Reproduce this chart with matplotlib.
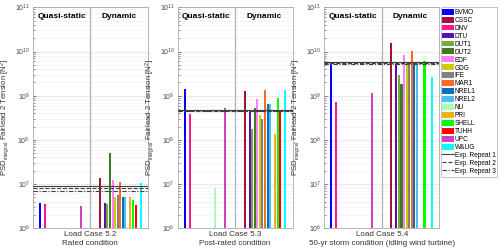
import numpy as np
import matplotlib
matplotlib.use('Agg')
import matplotlib.pyplot as plt
from matplotlib.patches import Patch
from matplotlib.lines import Line2D

plt.rcParams['font.family'] = ['Liberation Sans', 'DejaVu Sans']
plt.rcParams['mathtext.fontset'] = 'custom'
plt.rcParams['mathtext.rm'] = 'Liberation Sans'
plt.rcParams['mathtext.it'] = 'Liberation Sans:italic'

nan = np.nan

participants = ['BVMO', 'CSSC', 'DNV', 'DTU', 'DUT1', 'DUT2', 'EDF', 'GDG', 'IFE',
                'MAR1', 'NREL1', 'NREL2', 'NU', 'PRI', 'SHELL', 'TUHH', 'UPC', 'W&UG']
colors = ['#0000FF', '#A2142F', '#FF1493', '#5A0FB4', '#77AC30', '#3F7A24', '#FF80FF',
          '#CCCC00', '#808080', '#FF6A22', '#0072BD', '#4DBEEE', '#AAFFAA', '#EDB120',
          '#00FF00', '#FF0000', '#CC44BB', '#00FFFF']

groups = ['Quasi-static', 'Dynamic']

# load case 5.2
lc52_quasi = [3.7e6, nan, 3.5e6, nan, nan, nan, nan, nan, nan,
              nan, nan, nan, nan, nan, nan, nan, 3.1e6, nan]
lc52_dyn = [nan, 1.4e7, nan, 3.7e6, 3.4e6, 5.0e7, 1.2e7, 5.1e6, 5.6e6,
            1.1e7, 5.1e6, 5.1e6, nan, 5.0e6, 4.2e6, 3.2e6, nan, 1.04e7]
lc52_exp = [9.2e6, 8.3e6, 7.1e6]

# load case 5.3
lc53_quasi = [1.42e9, nan, 3.86e8, nan, nan, nan, nan, nan, nan,
              nan, nan, nan, 8.0e6, nan, nan, nan, 5.4e8, nan]
lc53_dyn = [nan, 1.3e9, nan, 4.6e8, 1.77e8, 5.2e8, 8.5e8, 3.6e8, 2.9e8,
            1.35e9, 6.4e8, 6.4e8, nan, 1.35e8, 9.0e8, 4.6e8, nan, 1.35e9]
lc53_exp = [4.7e8, 4.6e8, 4.5e8]

# load case 5.4
lc54_quasi = [5.9e9, nan, 7.3e8, nan, nan, nan, nan, nan, nan,
              nan, nan, nan, nan, nan, nan, nan, 1.13e9, nan]
lc54_dyn = [nan, 1.53e10, nan, 5.1e9, 2.9e9, 1.8e9, 8.3e9, 5.6e9, 5.6e9,
            1.02e10, 5.6e9, 5.6e9, nan, nan, 6.2e9, nan, nan, 2.6e9]
lc54_exp = [5.9e9, 5.5e9, 5.3e9]

case_names = ['Load Case 5.2', 'Load Case 5.3', 'Load Case 5.4']
case_desc = ['Rated condition', 'Post-rated condition',
             '50-yr storm condition (idling wind turbine)']
cases = [(lc52_quasi, lc52_dyn, lc52_exp),
         (lc53_quasi, lc53_dyn, lc53_exp),
         (lc54_quasi, lc54_dyn, lc54_exp)]

exp_styles = [('-', '#404040'), ('--', '#404040'), ((0, (4, 1.5, 1, 1.5)), '#404040')]

fig = plt.figure(figsize=(5.0, 2.52), dpi=100)
lefts = [0.0654, 0.355, 0.6484]

n = len(participants)
slot = 0.8 / n
for k, (quasi, dyn, exp) in enumerate(cases):
    ax = fig.add_axes([lefts[k], 0.094, 0.23, 0.877])
    ax.set_yscale('log')
    for g, vals in enumerate([quasi, dyn]):
        for i in range(n):
            x = g + 1 - 0.4 + slot * (i + 0.5)
            ax.bar(x, vals[i], width=slot * 0.8, bottom=1e5, color=colors[i], zorder=3)
    for j, v in enumerate(exp):
        ls, c = exp_styles[j]
        ax.axhline(v, color=c, ls=ls, lw=0.8, zorder=4)
    ax.axvline(1.5, color='#b0b0b0', lw=0.9, zorder=2)
    ax.set_xlim(0.5, 2.5)
    ax.set_ylim(1e6, 1e11)
    ax.set_xticks([1.5])
    ax.set_xticklabels([case_names[k]], fontsize=5.8, color='#333333')
    ax.set_xlabel(case_desc[k], fontsize=5.8, color='#333333', labelpad=1.5)
    ax.set_ylabel('PSD$_{integral}$ Fairlead 2 Tension [N$^2$]', fontsize=5.6,
                  color='#333333', labelpad=2)
    ax.tick_params(axis='x', length=0, pad=2)
    ax.tick_params(axis='y', which='both', direction='in', labelsize=5,
                   colors='#444444', pad=2)
    ax.tick_params(axis='y', which='major', length=2.5, width=0.5)
    ax.tick_params(axis='y', which='minor', length=1.5, width=0.4)
    ax.yaxis.grid(True, which='major', color='#dddddd', lw=0.5, zorder=0)
    ax.yaxis.grid(True, which='minor', color='#eeeeee', lw=0.4, zorder=0)
    for s in ax.spines.values():
        s.set_color('#aaaaaa')
        s.set_linewidth(0.6)
    for g, name in enumerate(groups):
        ax.text(g + 1, 0.96, name, transform=ax.get_xaxis_transform(),
                ha='center', va='center', fontsize=6, fontweight='bold')

handles = [Patch(facecolor=c, edgecolor='none') for c in colors]
labels = list(participants)
for j in range(3):
    ls, c = exp_styles[j]
    handles.append(Line2D([0], [0], color=c, ls=ls, lw=0.8))
    labels.append('Exp. Repeat %d' % (j + 1))

leg = fig.legend(handles, labels, loc='upper left', bbox_to_anchor=(0.881, 0.973),
                 fontsize=4.7, frameon=True, fancybox=False, borderpad=0.3,
                 labelspacing=0.12, handlelength=1.7, handleheight=1.0,
                 handletextpad=0.15, borderaxespad=0)
leg.get_frame().set_edgecolor('#aaaaaa')
leg.get_frame().set_linewidth(0.6)

fig.savefig('out.png', dpi=100)
